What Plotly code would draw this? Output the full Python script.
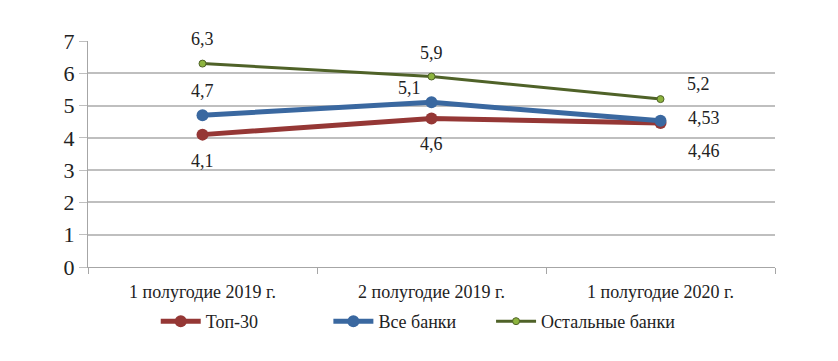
import plotly.graph_objects as go

categories = ["1 полугодие 2019 г.", "2 полугодие 2019 г.", "1 полугодие 2020 г."]
top30 = [4.1, 4.6, 4.46]
all_banks = [4.7, 5.1, 4.53]
other_banks = [6.3, 5.9, 5.2]
top30_labels = ["4,1", "4,6", "4,46"]
all_labels = ["4,7", "5,1", "4,53"]
other_labels = ["6,3", "5,9", "5,2"]

FONT = "Times New Roman, Liberation Serif, serif"
fig = go.Figure()
fig.add_trace(go.Scatter(x=categories, y=top30, name="Топ-30", mode="lines+markers",
                         line=dict(color="#953735", width=5),
                         marker=dict(size=12, color="#953735"), legend="legend"))
fig.add_trace(go.Scatter(x=categories, y=all_banks, name="Все банки", mode="lines+markers",
                         line=dict(color="#3A68A0", width=5),
                         marker=dict(size=12, color="#3A68A0"), legend="legend2"))
fig.add_trace(go.Scatter(x=categories, y=other_banks, name="Остальные банки", mode="lines+markers",
                         line=dict(color="#4F6228", width=3),
                         marker=dict(size=7, color="#8DB43E", line=dict(color="#4F6228", width=1)),
                         legend="legend3"))

shifts_top = [(0, -26), (0, -26), (43, -28)]
shifts_all = [(0, 24), (-22, 14), (43, 3)]
shifts_other = [(0, 25), (0, 24), (38, 15)]
for vals, labels, shifts in [(top30, top30_labels, shifts_top),
                             (all_banks, all_labels, shifts_all),
                             (other_banks, other_labels, shifts_other)]:
    for c, v, t, (dx, dy) in zip(categories, vals, labels, shifts):
        fig.add_annotation(x=c, y=v, text=t, showarrow=False, xshift=dx, yshift=dy,
                           font=dict(family=FONT, size=18, color="#222222"))

leg_common = dict(orientation="h", xanchor="left", yref="container", xref="container",
                  y=0.112, yanchor="middle", font=dict(family=FONT, size=18),
                  itemwidth=40, bgcolor="rgba(0,0,0,0)")
fig.update_layout(
    width=830, height=353,
    margin=dict(l=80, r=63, t=33, b=94, autoexpand=False),
    paper_bgcolor="white", plot_bgcolor="white",
    font=dict(family=FONT, color="#222222"),
    showlegend=True,
    legend=dict(x=0.178, **leg_common),
    legend2=dict(x=0.386, **leg_common),
    legend3=dict(x=0.582, **leg_common),
)
fig.update_xaxes(type="category", range=[-0.5, 2.5], showgrid=False, automargin=False,
                 showline=True, linecolor="#a6a6a6", linewidth=1,
                 ticks="outside", tickson="boundaries", ticklen=6, tickcolor="#a6a6a6",
                 ticklabelstandoff=8,
                 tickfont=dict(family=FONT, size=18, color="#222222"))
fig.update_yaxes(range=[0, 7], dtick=1, showgrid=True, gridcolor="#bfbfbf", gridwidth=1.5,
                 showline=True, linecolor="#a6a6a6", linewidth=1, zeroline=False, automargin=False,
                 ticks="outside", ticklen=8, tickcolor="#bfbfbf",
                 tickfont=dict(family=FONT, size=22, color="#222222"))

fig.write_html("out.html")
